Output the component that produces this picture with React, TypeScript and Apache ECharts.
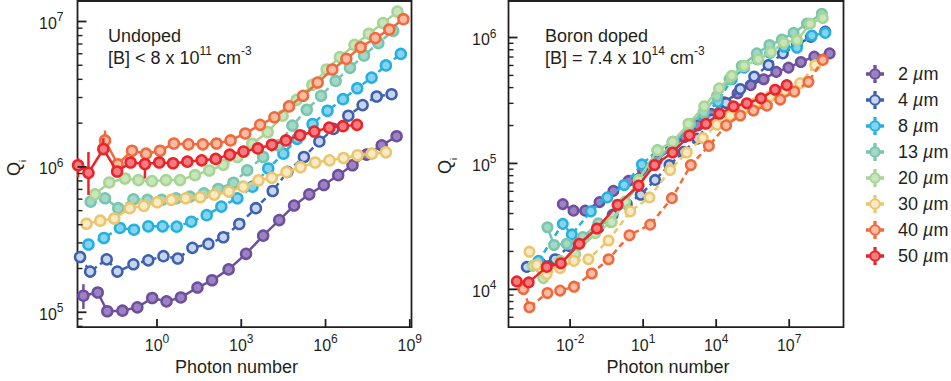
import React, { useEffect, useRef } from "react";
import * as echarts from "echarts";

const INK = "#231f20";
const FONT = "'Liberation Sans', Arial, Helvetica, sans-serif";

// Widths (µm) and colours
const SIZE_LABELS = ["2", "4", "8", "13", "20", "30", "40", "50"];
const EDGE_COLORS = ["#6e4f9e", "#3d61ae", "#25b1e0", "#78c6ae", "#a6d594", "#ecc56d", "#f06a3b", "#ec2327"];
const FILL_COLORS = ["#9b83c2", "#c8d3ec", "#85d3ed", "#a3d8c6", "#c9e5bd", "#f7ebc7", "#f8bba6", "#ef7d83"];
const DASHED_UNDOPED = [false, true, true, true, false, false, false, false];
const DASHED_BORON = [false, true, true, false, false, true, true, false];

// Axis ranges (log10 units) and tick exponents
const UNDOPED_X_RANGE = [-2.83, 9.06];
const UNDOPED_Y_RANGE = [4.898, 7.141];
const BORON_X_RANGE = [-4.53, 9.23];
const BORON_Y_RANGE = [3.7, 6.29];
const UNDOPED_X_TICKS = [0, 3, 6, 9];
const UNDOPED_Y_TICKS = [5, 6, 7];
const BORON_X_TICKS = [-2, 1, 4, 7];
const BORON_Y_TICKS = [4, 5, 6];

// Undoped panel: [log10(photon number), log10(Qi)]
const undoped2 = [[-2.62, 5.114], [-2.11, 5.136], [-1.77, 5.007], [-1.23, 5.011], [-0.7, 5.034], [-0.17, 5.098], [0.34, 5.075], [0.85, 5.102], [1.44, 5.17], [1.96, 5.22], [2.55, 5.295], [3.17, 5.402], [3.78, 5.527], [4.35, 5.634], [4.88, 5.734], [5.42, 5.811], [5.94, 5.875], [6.45, 5.943], [6.96, 6.011], [7.46, 6.084], [8.0, 6.148], [8.53, 6.211]];
const undoped4 = [[-2.74, 5.38], [-2.38, 5.28], [-1.79, 5.364], [-1.41, 5.28], [-0.84, 5.33], [-0.31, 5.357], [0.23, 5.386], [0.74, 5.37], [1.26, 5.443], [1.83, 5.47], [2.36, 5.516], [2.93, 5.607], [3.52, 5.716], [4.12, 5.834], [4.64, 5.966], [5.23, 6.068], [5.78, 6.175], [6.28, 6.261], [6.81, 6.352], [7.32, 6.425], [7.82, 6.484], [8.35, 6.5]];
const undoped8 = [[-2.44, 5.466], [-1.89, 5.511], [-1.32, 5.58], [-0.82, 5.568], [-0.31, 5.591], [0.2, 5.591], [0.7, 5.589], [1.22, 5.623], [1.77, 5.668], [2.29, 5.727], [2.86, 5.784], [3.4, 5.864], [3.96, 5.989], [4.5, 6.091], [4.99, 6.193], [5.54, 6.295], [6.07, 6.386], [6.62, 6.466], [7.13, 6.541], [7.64, 6.614], [8.15, 6.698], [8.68, 6.777]];
const undoped13 = [[-2.36, 5.761], [-1.85, 5.784], [-1.38, 5.716], [-0.84, 5.777], [-0.34, 5.773], [0.17, 5.773], [0.68, 5.784], [1.17, 5.795], [1.67, 5.818], [2.18, 5.848], [2.72, 5.891], [3.21, 5.977], [3.78, 6.068], [4.32, 6.148], [4.82, 6.284], [5.33, 6.393], [5.84, 6.489], [6.36, 6.591], [6.87, 6.682], [7.37, 6.766], [7.88, 6.852], [8.41, 6.936]];
const undoped20 = [[-2.21, 5.811], [-1.7, 5.893], [-1.14, 5.92], [-0.66, 5.909], [-0.18, 5.902], [0.32, 5.909], [0.82, 5.909], [1.35, 5.943], [1.86, 5.975], [2.36, 6.014], [2.86, 6.068], [3.39, 6.159], [3.94, 6.239], [4.47, 6.352], [4.97, 6.461], [5.53, 6.564], [6.04, 6.67], [6.51, 6.755], [7.03, 6.839], [7.54, 6.916], [8.05, 6.989], [8.56, 7.068]];
const undoped30 = [[-2.51, 5.609], [-2.02, 5.63], [-1.52, 5.645], [-0.97, 5.716], [-0.47, 5.732], [0.01, 5.757], [0.51, 5.773], [1.02, 5.784], [1.54, 5.791], [2.04, 5.809], [2.56, 5.83], [3.07, 5.864], [3.61, 5.907], [4.09, 5.925], [4.61, 5.964], [5.11, 5.998], [5.63, 6.03], [6.14, 6.045], [6.64, 6.061], [7.14, 6.08], [7.65, 6.091], [8.15, 6.1]];
const undoped40 = [[-1.85, 6.182], [-1.4, 6.018], [-0.89, 6.111], [-0.39, 6.091], [0.11, 6.111], [0.6, 6.161], [1.12, 6.155], [1.63, 6.155], [2.12, 6.161], [2.62, 6.182], [3.14, 6.23], [3.67, 6.289], [4.18, 6.341], [4.7, 6.416], [5.2, 6.489], [5.72, 6.58], [6.24, 6.67], [6.74, 6.743], [7.25, 6.823], [7.77, 6.886], [8.27, 6.945], [8.77, 7.016]];
const undoped50 = [[-2.81, 6.011], [-2.44, 5.959], [-1.91, 6.123], [-1.42, 5.968], [-0.94, 6.03], [-0.43, 6.02], [0.08, 6.03], [0.57, 6.025], [1.08, 6.036], [1.59, 6.045], [2.09, 6.055], [2.59, 6.084], [3.08, 6.105], [3.59, 6.127], [4.09, 6.152], [4.59, 6.182], [5.09, 6.218], [5.6, 6.243], [6.13, 6.27], [6.62, 6.28], [7.12, 6.289]];

// Undoped error bars: [log10(photon number), low, high]
const undopedErr2 = [[-2.62, 5.023, 5.193]];
const undopedErr40 = [[-1.85, 6.12, 6.25]];
const undopedErr50 = [[-2.81, 5.93, 6.06], [-2.44, 5.807, 6.102], [-1.91, 6.08, 6.198], [-0.43, 5.92, 6.057]];

// Boron doped panel: [log10(photon number), log10(Qi)]
const boron2 = [[-2.3, 4.677], [-1.86, 4.625], [-1.38, 4.625], [-0.79, 4.693], [-0.22, 4.782], [0.4, 4.861], [0.99, 4.948], [1.56, 5.026], [2.14, 5.118], [2.7, 5.21], [3.25, 5.302], [3.78, 5.394], [4.33, 5.486], [4.88, 5.556], [5.42, 5.622], [5.95, 5.669], [6.47, 5.727], [6.97, 5.761], [7.48, 5.806], [8.03, 5.848], [8.66, 5.874]];
const boron4 = [[-3.78, 4.178], [-3.21, 4.205], [-2.62, 4.239], [-2.03, 4.344], [-1.45, 4.409], [-0.84, 4.488], [-0.25, 4.593], [0.33, 4.677], [0.9, 4.751], [1.49, 4.869], [2.08, 4.987], [2.66, 5.092], [3.23, 5.197], [3.82, 5.349], [4.41, 5.48], [4.99, 5.591], [5.56, 5.69], [6.15, 5.782], [6.74, 5.874], [7.32, 5.94], [7.89, 6.005], [8.48, 6.047]];
const boron8 = [[-3.3, 4.226], [-2.3, 4.52], [-1.93, 4.436], [-1.15, 4.619], [-0.47, 4.73], [0.22, 4.829], [0.95, 4.992], [1.59, 5.105], [2.21, 5.171], [2.86, 5.249], [3.48, 5.381], [4.07, 5.491], [4.64, 5.669], [5.15, 5.761], [5.7, 5.827], [6.22, 5.879], [6.79, 5.927], [7.32, 5.919], [7.93, 6.016], [8.48, 6.037]];
const boron13 = [[-2.93, 4.493], [-2.66, 4.352], [-2.14, 4.362], [-1.48, 4.415], [-0.84, 4.525], [-0.33, 4.535], [0.22, 4.685], [0.81, 4.829], [1.42, 4.987], [2.25, 5.171], [2.93, 5.315], [3.48, 5.407], [4.03, 5.533], [4.55, 5.669], [5.05, 5.774], [5.67, 5.874], [6.19, 5.94], [6.7, 5.984], [7.18, 6.037], [7.73, 6.11], [8.34, 6.189]];
const boron20 = [[-3.53, 4.186], [-3.1, 4.089], [-2.41, 4.226], [-1.79, 4.278], [-0.97, 4.446], [-0.29, 4.535], [0.26, 4.698], [0.81, 4.869], [1.59, 5.105], [2.21, 5.171], [2.86, 5.315], [3.51, 5.454], [4.12, 5.596], [4.64, 5.696], [5.15, 5.774], [5.74, 5.827], [6.25, 5.885], [6.77, 5.958], [7.32, 5.979], [7.86, 6.11], [8.38, 6.155]];
const boron30 = [[-3.67, 4.299], [-3.37, 4.194], [-2.96, 4.121], [-2.41, 4.168], [-1.84, 4.226], [-1.25, 4.239], [-0.42, 4.388], [0.47, 4.619], [1.26, 4.73], [2.11, 4.948], [2.79, 5.087], [3.45, 5.202], [4.03, 5.307], [4.58, 5.381], [5.12, 5.433], [5.67, 5.486], [6.22, 5.533], [6.84, 5.577], [7.45, 5.638], [8.07, 5.78]];
const boron40 = [[-3.92, 4.003], [-3.67, 3.858], [-2.93, 3.971], [-2.41, 3.99], [-1.84, 4.021], [-1.11, 4.126], [-0.42, 4.239], [0.44, 4.43], [1.29, 4.514], [2.18, 4.724], [2.96, 4.987], [3.7, 5.139], [4.41, 5.302], [4.99, 5.381], [5.53, 5.42], [6.08, 5.459], [6.63, 5.507], [7.21, 5.57], [7.79, 5.648], [8.38, 5.822]];
const boron50 = [[-4.19, 4.063], [-3.7, 4.055], [-2.96, 4.178], [-2.38, 4.207], [-1.62, 4.362], [-0.9, 4.483], [-0.05, 4.672], [0.81, 4.824], [1.47, 4.987], [2.21, 5.087], [2.9, 5.223], [3.58, 5.315], [4.14, 5.394], [4.71, 5.454], [5.26, 5.478], [5.84, 5.517], [6.42, 5.585], [6.9, 5.622]];

const UNDOPED_SERIES = [undoped2, undoped4, undoped8, undoped13, undoped20, undoped30, undoped40, undoped50];
const BORON_SERIES = [boron2, boron4, boron8, boron13, boron20, boron30, boron40, boron50];

const GRIDS = [
  { left: 77.5, top: 1, width: 334, height: 329 },
  { left: 508.5, top: 1, width: 335, height: 329 },
];
const X_RANGES = [UNDOPED_X_RANGE, BORON_X_RANGE];
const Y_RANGES = [UNDOPED_Y_RANGE, BORON_Y_RANGE];

const minorTicks = (range: number[]) => {
  const out: number[] = [];
  for (let n = Math.floor(range[0]) - 1; n <= Math.ceil(range[1]); n++) {
    for (let k = 2; k <= 9; k++) {
      const v = n + Math.log10(k);
      if (v > range[0] && v < range[1]) out.push(v);
    }
  }
  return out;
};

const powerRich = {
  b: { fontSize: 16, fontFamily: FONT, color: INK, lineHeight: 20, verticalAlign: "bottom" },
  s: { fontSize: 12, fontFamily: FONT, color: INK, lineHeight: 12, verticalAlign: "top" },
};
const powerFmt = (v: number) => `{b|10}{s|${Math.round(v)}}`;

const makeXAxis = (grid: number, ticks: number[]) => ({
  type: "value",
  gridIndex: grid,
  min: X_RANGES[grid][0],
  max: X_RANGES[grid][1],
  position: "bottom",
  axisLine: { show: false, onZero: false },
  splitLine: { show: false },
  axisTick: { show: false },
  axisLabel: { show: true, customValues: ticks, formatter: powerFmt, rich: powerRich, margin: 6 },
  name: "Photon number",
  nameLocation: "middle",
  nameGap: 21,
  nameTextStyle: { fontSize: 18, fontFamily: FONT, color: INK, padding: [0, 16, 0, 0] },
});

const makeYAxis = (grid: number, ticks: number[], labelMargin: number) => ({
  type: "value",
  gridIndex: grid,
  min: Y_RANGES[grid][0],
  max: Y_RANGES[grid][1],
  position: "left",
  axisLine: { show: false, onZero: false },
  splitLine: { show: false },
  axisTick: { show: false },
  axisLabel: { show: true, customValues: ticks, formatter: powerFmt, rich: powerRich, margin: labelMargin },
});

const LEGEND_ICON =
  "path://M4,10A6,6,0,1,0,16,10A6,6,0,1,0,4,10Z M9.2,0L10.8,0L10.8,3.6L9.2,3.6Z M9.2,16.4L10.8,16.4L10.8,20L9.2,20Z M0,9.2L3.6,9.2L3.6,10.8L0,10.8Z M16.4,9.2L20,9.2L20,10.8L16.4,10.8Z";

export default function App() {
  const ref = useRef<HTMLDivElement>(null);

  useEffect(() => {
    if (!ref.current) return;
    const chart = echarts.init(ref.current, undefined, { renderer: "svg" });

    const lineSeries: any[] = [];
    const addPanel = (panel: number, list: number[][][], dashed: boolean[], symbolSize: number) => {
      list.forEach((data, i) => {
        lineSeries.push({
          type: "line",
          name: `${SIZE_LABELS[i]} µm`,
          xAxisIndex: panel,
          yAxisIndex: panel,
          data,
          symbol: "circle",
          symbolSize,
          showAllSymbol: true,
          itemStyle: { color: FILL_COLORS[i], borderColor: EDGE_COLORS[i], borderWidth: 2.5 },
          lineStyle: { color: EDGE_COLORS[i], width: 2.5, type: dashed[i] ? [6, 4] : "solid" },
          z: 3 + i,
          silent: true,
          emphasis: { disabled: true },
          clip: true,
        });
      });
    };
    addPanel(0, UNDOPED_SERIES, DASHED_UNDOPED, 10);
    addPanel(1, BORON_SERIES, DASHED_BORON, 9.5);

    const errSeries = (data: number[][], colorIdx: number) => ({
      type: "custom",
      xAxisIndex: 0,
      yAxisIndex: 0,
      data,
      encode: { x: 0, y: [1, 2] },
      z: 3 + colorIdx,
      silent: true,
      clip: true,
      renderItem: (_p: any, api: any) => {
        const a = api.coord([api.value(0), api.value(1)]);
        const b = api.coord([api.value(0), api.value(2)]);
        return {
          type: "line",
          shape: { x1: a[0], y1: a[1], x2: b[0], y2: b[1] },
          style: { stroke: EDGE_COLORS[colorIdx], lineWidth: 2.5 },
        };
      },
    });

    const richText = {
      n: { fontSize: 18, fontFamily: FONT, color: INK, lineHeight: 22, verticalAlign: "bottom" },
      s: { fontSize: 12, fontFamily: FONT, color: INK, lineHeight: 12, verticalAlign: "top" },
      q: { fontSize: 18, fontFamily: FONT, color: INK, lineHeight: 22, verticalAlign: "top" },
      i: { fontSize: 9, fontFamily: FONT, color: INK, lineHeight: 10, verticalAlign: "bottom" },
    };

    const annot = (x: number, y: number, text: string, rotation = 0, align = "left") => ({
      type: "text",
      x,
      y,
      rotation,
      silent: true,
      style: { text, fill: INK, verticalAlign: "middle", align, rich: richText },
    });

    const annotations = [
      annot(108, 34, "{n|Undoped}"),
      annot(108, 56, "{n|[B] < 8 x 10}{s|11}{n| cm}{s|-3}"),
      annot(545, 34, "{n|Boron doped}"),
      annot(545, 56, "{n|[B] = 7.4 x 10}{s|14}{n| cm}{s|-3}"),
      annot(16, 168, "{q|Q}{i|i}", Math.PI / 2, "center"),
      annot(447, 166, "{q|Q}{i|i}", Math.PI / 2, "center"),
    ];

    chart.setOption({
      animation: false,
      textStyle: { fontFamily: FONT, color: INK },
      grid: GRIDS.map((g) => ({ ...g, show: true, borderColor: INK, borderWidth: 1.8, backgroundColor: "transparent" })),
      xAxis: [makeXAxis(0, UNDOPED_X_TICKS), makeXAxis(1, BORON_X_TICKS)],
      yAxis: [makeYAxis(0, UNDOPED_Y_TICKS, 14), makeYAxis(1, BORON_Y_TICKS, 12)],
      legend: {
        data: SIZE_LABELS.map((s) => `${s} µm`),
        orient: "vertical",
        left: 861,
        top: 60,
        itemWidth: 16,
        itemHeight: 16,
        itemGap: 8,
        icon: LEGEND_ICON,
        itemStyle: { borderWidth: 2 },
        selectedMode: false,
        formatter: (name: string) => `{n|${name.split(" ")[0]} }{i|µ}{n|m}`,
        textStyle: {
          padding: [0, 0, 0, 10],
          rich: {
            n: { fontSize: 18, fontFamily: FONT, color: INK, lineHeight: 18 },
            i: { fontSize: 18, fontFamily: FONT, color: INK, fontStyle: "italic", lineHeight: 18 },
          },
        },
      },
      graphic: annotations,
      series: [
        ...lineSeries,
        errSeries(undopedErr2, 0),
        errSeries(undopedErr40, 6),
        errSeries(undopedErr50, 7),
      ],
    });

    // Data -> pixel through the chart's own axes, with a linear fallback on the grid box
    const toPx = (panel: number, pt: number[]): number[] => {
      try {
        const r = chart.convertToPixel({ xAxisIndex: panel, yAxisIndex: panel } as any, pt) as any;
        if (r && isFinite(r[0]) && isFinite(r[1])) return r as number[];
      } catch (e) {
        // fall through
      }
      const g = GRIDS[panel];
      const xr = X_RANGES[panel];
      const yr = Y_RANGES[panel];
      return [
        g.left + ((pt[0] - xr[0]) / (xr[1] - xr[0])) * g.width,
        g.top + g.height - ((pt[1] - yr[0]) / (yr[1] - yr[0])) * g.height,
      ];
    };

    const tickEls: any[] = [];
    const tickLine = (x1: number, y1: number, x2: number, y2: number, w: number) => ({
      type: "line",
      silent: true,
      z: 100,
      shape: { x1, y1, x2, y2 },
      style: { stroke: INK, lineWidth: w },
    });
    const addTicks = (panel: number, xTicks: number[], yTicks: number[]) => {
      const xr = X_RANGES[panel];
      const yr = Y_RANGES[panel];
      xTicks.forEach((v) => {
        const p = toPx(panel, [v, yr[0]]);
        tickEls.push(tickLine(p[0], p[1], p[0], p[1] - 8, 1.8));
      });
      yTicks.forEach((v) => {
        const p = toPx(panel, [xr[0], v]);
        tickEls.push(tickLine(p[0], p[1], p[0] + 9, p[1], 1.8));
      });
      minorTicks(yr).forEach((v) => {
        const p = toPx(panel, [xr[0], v]);
        tickEls.push(tickLine(p[0], p[1], p[0] + 5, p[1], 1.4));
      });
    };
    addTicks(0, UNDOPED_X_TICKS, UNDOPED_Y_TICKS);
    addTicks(1, BORON_X_TICKS, BORON_Y_TICKS);

    chart.setOption({ graphic: [...annotations, ...tickEls] });

    return () => chart.dispose();
  }, []);

  return (
    <div
      ref={ref}
      style={{ position: "fixed", left: 0, top: 0, width: 951, height: 381, background: "#fff" }}
    />
  );
}
